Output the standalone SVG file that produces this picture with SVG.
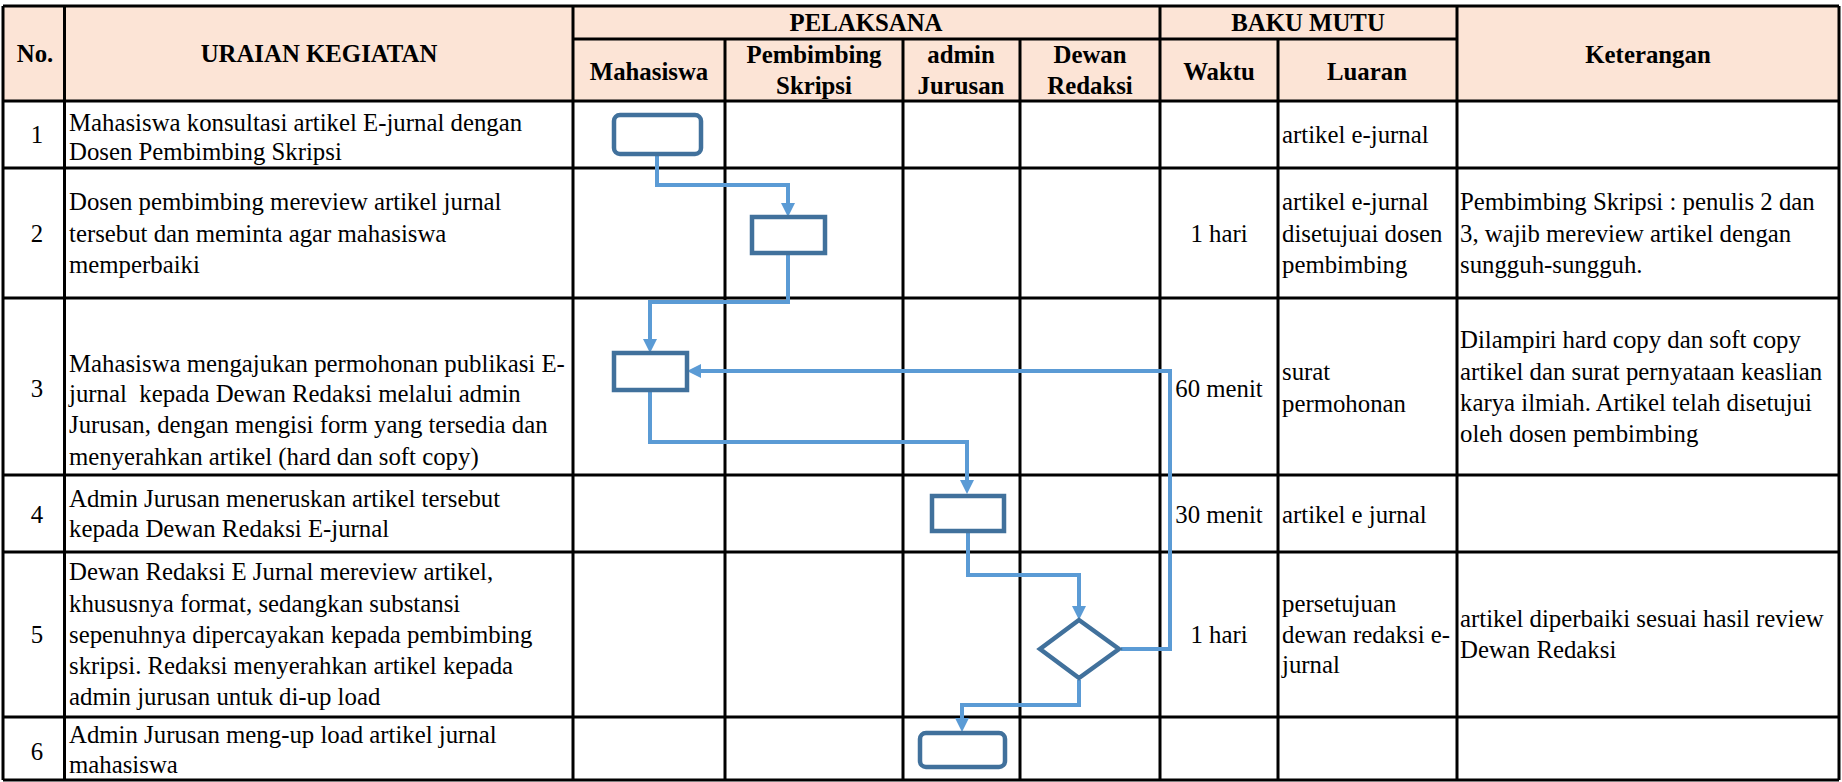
<svg xmlns="http://www.w3.org/2000/svg" width="1842" height="782" viewBox="0 0 1842 782">
<style>
text{font-family:"Liberation Serif","Times New Roman",serif;font-size:24.8px;fill:#000}
.h{font-weight:bold}
.c{text-anchor:middle}
.grid{stroke:#000;stroke-width:3;fill:none}
.node{fill:#fff;stroke:#41719C;stroke-width:4.5}
.conn{fill:none;stroke:#5B9BD5;stroke-width:4}
</style>
<defs>
<marker id="arr" markerUnits="userSpaceOnUse" markerWidth="14" markerHeight="14" viewBox="0 0 14 14" refX="1" refY="7" orient="auto">
<path d="M0,0 L14,7 L0,14 z" fill="#5B9BD5"/>
</marker>
</defs>
<rect x="3" y="6" width="1836" height="95" fill="#FCE4D6"/>
<g id="grid" class="grid">
<path d="M3,6 H1839 M3,101 H1839 M3,168 H1839 M3,298 H1839 M3,475 H1839 M3,552 H1839 M3,717 H1839 M3,780 H1839 M573,39 H1457"/>
<path d="M3,6 V780 M64.5,6 V780 M573,6 V780 M1160,6 V780 M1457,6 V780 M1839,6 V780 M725,39 V780 M903,39 V780 M1020,39 V780 M1278,39 V780"/>
</g>
<g id="header">
<text class="h c" x="35" y="62">No.</text>
<text class="h c" x="319" y="62">URAIAN KEGIATAN</text>
<text class="h c" x="866" y="31">PELAKSANA</text>
<text class="h c" x="1308" y="31">BAKU MUTU</text>
<text class="h c" x="649" y="80">Mahasiswa</text>
<text class="h c" x="814" y="63">Pembimbing</text>
<text class="h c" x="814" y="94">Skripsi</text>
<text class="h c" x="961" y="63">admin</text>
<text class="h c" x="961" y="94">Jurusan</text>
<text class="h c" x="1090" y="63">Dewan</text>
<text class="h c" x="1090" y="94">Redaksi</text>
<text class="h c" x="1219" y="80">Waktu</text>
<text class="h c" x="1367" y="80">Luaran</text>
<text class="h c" x="1648" y="63">Keterangan</text>
</g>
<g id="row1">
<text class="c" x="37" y="143">1</text>
<text x="69" y="131">Mahasiswa konsultasi artikel E-jurnal dengan</text>
<text x="69" y="160">Dosen Pembimbing Skripsi</text>
<text x="1282" y="143">artikel e-jurnal</text>
</g>
<g id="row2">
<text class="c" x="37" y="242">2</text>
<text x="69" y="210">Dosen pembimbing mereview artikel jurnal</text>
<text x="69" y="242">tersebut dan meminta agar mahasiswa</text>
<text x="69" y="273">memperbaiki</text>
<text class="c" x="1219" y="242">1 hari</text>
<text x="1282" y="210">artikel e-jurnal</text>
<text x="1282" y="242">disetujuai dosen</text>
<text x="1282" y="273">pembimbing</text>
<text x="1460" y="210">Pembimbing Skripsi : penulis 2 dan</text>
<text x="1460" y="242">3, wajib mereview artikel dengan</text>
<text x="1460" y="273">sungguh-sungguh.</text>
</g>
<g id="row3">
<text class="c" x="37" y="397">3</text>
<text x="69" y="372">Mahasiswa mengajukan permohonan publikasi E-</text>
<text x="69" y="402" xml:space="preserve">jurnal  kepada Dewan Redaksi melalui admin</text>
<text x="69" y="433">Jurusan, dengan mengisi form yang tersedia dan</text>
<text x="69" y="465">menyerahkan artikel (hard dan soft copy)</text>
<text class="c" x="1219" y="397">60 menit</text>
<text x="1282" y="380">surat</text>
<text x="1282" y="412">permohonan</text>
<text x="1460" y="348">Dilampiri hard copy dan soft copy</text>
<text x="1460" y="380">artikel dan surat pernyataan keaslian</text>
<text x="1460" y="411">karya ilmiah. Artikel telah disetujui</text>
<text x="1460" y="442">oleh dosen pembimbing</text>
</g>
<g id="row4">
<text class="c" x="37" y="523">4</text>
<text x="69" y="507">Admin Jurusan meneruskan artikel tersebut</text>
<text x="69" y="537">kepada Dewan Redaksi E-jurnal</text>
<text class="c" x="1219" y="523">30 menit</text>
<text x="1282" y="523">artikel e jurnal</text>
</g>
<g id="row5">
<text class="c" x="37" y="643">5</text>
<text x="69" y="580">Dewan Redaksi E Jurnal mereview artikel,</text>
<text x="69" y="612">khususnya format, sedangkan substansi</text>
<text x="69" y="643">sepenuhnya dipercayakan kepada pembimbing</text>
<text x="69" y="674">skripsi. Redaksi menyerahkan artikel kepada</text>
<text x="69" y="705">admin jurusan untuk di-up load</text>
<text class="c" x="1219" y="643">1 hari</text>
<text x="1282" y="612">persetujuan</text>
<text x="1282" y="643">dewan redaksi e-</text>
<text x="1282" y="673">jurnal</text>
<text x="1460" y="627">artikel diperbaiki sesuai hasil review</text>
<text x="1460" y="658">Dewan Redaksi</text>
</g>
<g id="row6">
<text class="c" x="37" y="760">6</text>
<text x="69" y="743">Admin Jurusan meng-up load artikel jurnal</text>
<text x="69" y="773">mahasiswa</text>
</g>
<g id="connectors" class="conn">
<path d="M657,156 V185 H788 V204" marker-end="url(#arr)"/>
<path d="M788,255 V302 H650 V340" marker-end="url(#arr)"/>
<path d="M650,392 V442 H967 V481" marker-end="url(#arr)"/>
<path d="M968,533 V575 H1079 V607" marker-end="url(#arr)"/>
<path d="M1121,649 H1170 V371 H700" marker-end="url(#arr)"/>
<path d="M1079,680 V705 H962 V719" marker-end="url(#arr)"/>
</g>
<g id="node1"><rect class="node" x="614" y="115" width="87" height="39" rx="6"/></g>
<g id="node2"><rect class="node" x="752" y="217" width="73" height="36"/></g>
<g id="node3"><rect class="node" x="614" y="353" width="73" height="37"/></g>
<g id="node4"><rect class="node" x="932" y="496" width="72" height="35"/></g>
<g id="node5"><polygon class="node" points="1079,620 1119,649 1079,678 1040,649"/></g>
<g id="node6"><rect class="node" x="920" y="733" width="85" height="34" rx="6"/></g>
</svg>
